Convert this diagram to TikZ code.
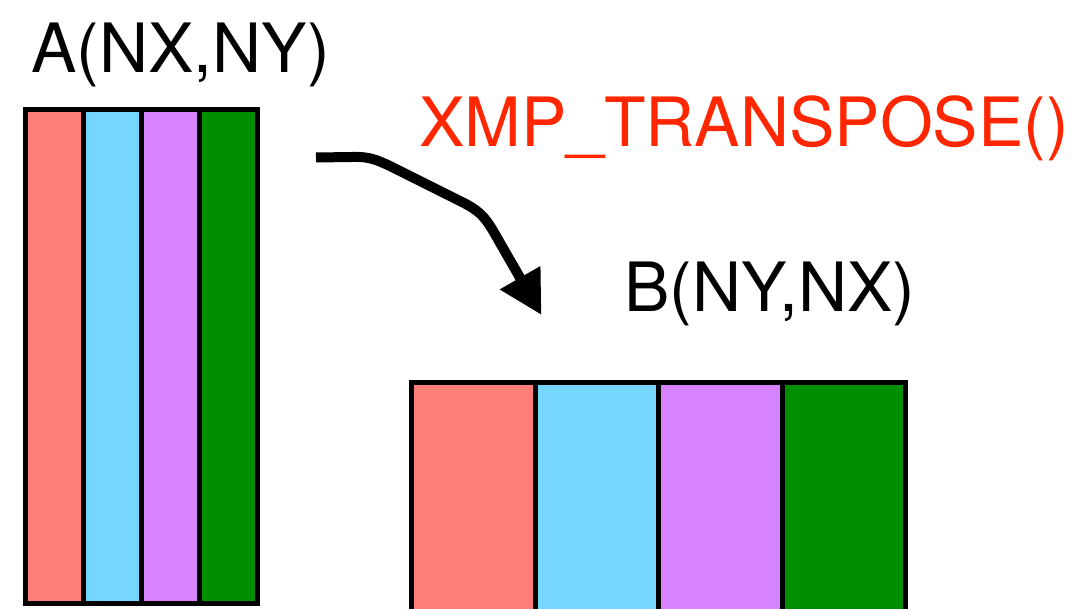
\documentclass[tikz,border=0pt]{standalone}
\usepackage{fontspec}
\setmainfont{TeX Gyre Heros}
\usetikzlibrary{arrows.meta}
\definecolor{cred}{HTML}{FF7E79}
\definecolor{cblue}{HTML}{76D6FF}
\definecolor{cpurple}{HTML}{D783FF}
\definecolor{cgreen}{HTML}{008F00}
\definecolor{ctitle}{HTML}{FF2600}
\tikzset{
  grid line/.style={line width=5pt, black},
  label text/.style={inner sep=0pt, anchor=base, font=\fontsize{68}{70}\selectfont},
  flow arrow/.style={line width=10pt, line join=round, -{Triangle[length=43pt,width=44pt]}},
}
\begin{document}
\begin{tikzpicture}[x=1pt,y=-1pt]
\useasboundingbox (0,0) rectangle (1081,609);
\clip (0,0) rectangle (1081,609);
% left matrix A
\fill[cred] (25,110) rectangle (83,603);
\fill[cblue] (83,110) rectangle (141,603);
\fill[cpurple] (141,110) rectangle (199,603);
\fill[cgreen] (199,110) rectangle (257,603);
\draw[grid line] (83,110) -- (83,603) (141,110) -- (141,603) (199,110) -- (199,603);
\draw[grid line] (25,110) rectangle (257,603);
% right matrix B
\fill[cred] (411.5,382) rectangle (535,640);
\fill[cblue] (535,382) rectangle (658.5,640);
\fill[cpurple] (658.5,382) rectangle (782,640);
\fill[cgreen] (782,382) rectangle (905.5,640);
\draw[grid line] (535,382) -- (535,640) (658.5,382) -- (658.5,640) (782,382) -- (782,640);
\draw[grid line] (411.5,382) rectangle (905.5,640);
% labels
\node[label text] (la) at (180.5,72.5) {A(NX,NY)};
\node[label text, text=ctitle] (lt) at (744,147) {XMP\_TRANSPOSE()};
\node[label text] (lb) at (770,311.5) {B(NY,NX)};
% arrow
\coordinate (s) at (316,157.5);
\coordinate (e) at (541.5,315);
\draw[flow arrow] (s) -- (352,157) .. controls (368,156.5) and (375,159) .. (390,166)
  -- (462,202) .. controls (478,210) and (484,216) .. (492,229) -- (e);
\end{tikzpicture}
\end{document}
